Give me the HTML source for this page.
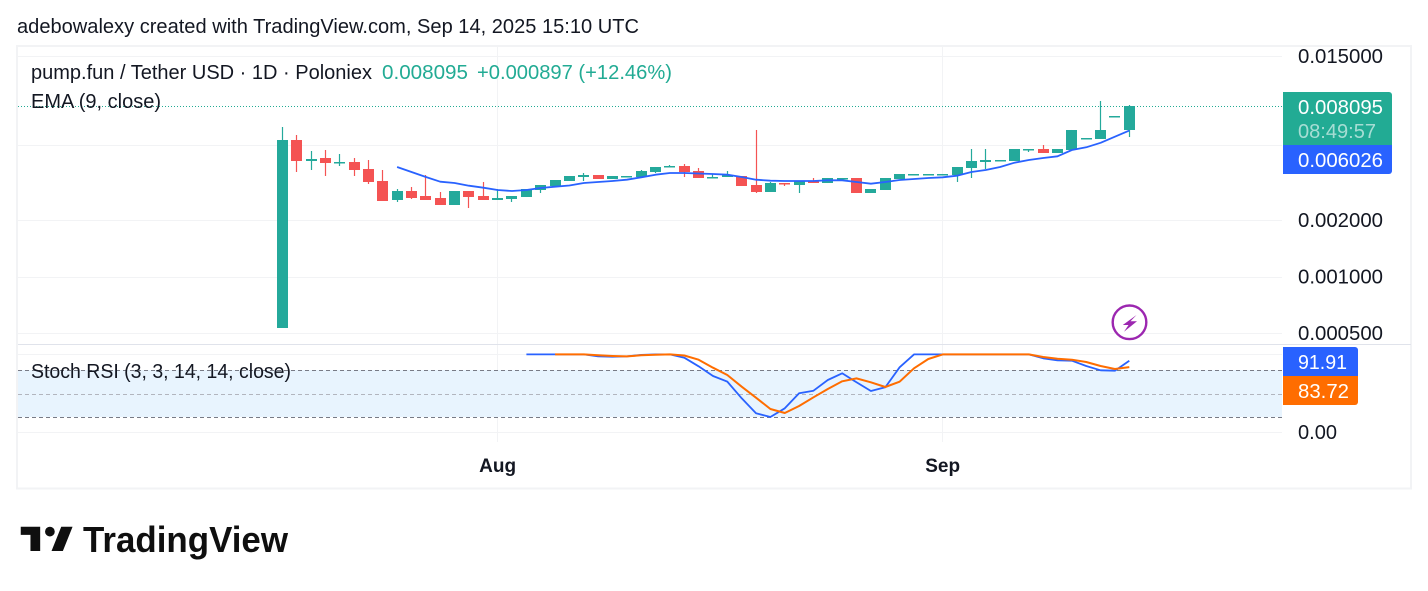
<!DOCTYPE html>
<html lang="en">
<head>
<meta charset="utf-8">
<title>pump.fun / Tether USD chart</title>
<style>
html,body{margin:0;padding:0;background:#fff;width:1428px;height:591px;overflow:hidden}
svg{display:block}
text{font-family:"Liberation Sans",sans-serif;fill:#131722}
</style>
</head>
<body>
<svg id="chart" width="1428" height="591" viewBox="0 0 1428 591" xmlns="http://www.w3.org/2000/svg">
  <rect x="0" y="0" width="1428" height="591" fill="#ffffff"/>
  <text x="17" y="33" font-size="20" textLength="622" lengthAdjust="spacingAndGlyphs">adebowalexy created with TradingView.com, Sep 14, 2025 15:10 UTC</text>
  <rect x="17" y="46" width="1394" height="442.5" fill="none" stroke="#f2f3f5" stroke-width="2"/>
  <g id="grid"></g>
  <rect x="18" y="370" width="1264" height="47" fill="#e8f4fe"/>
  <line x1="18" x2="1282" y1="370.5" y2="370.5" stroke="#787b86" stroke-dasharray="4 3"/>
  <line x1="18" x2="1282" y1="394.5" y2="394.5" stroke="#b2b5be" stroke-dasharray="4 3"/>
  <line x1="18" x2="1282" y1="417.5" y2="417.5" stroke="#787b86" stroke-dasharray="4 3"/>
  <line x1="18" x2="1411" y1="344.5" y2="344.5" stroke="#e0e3eb"/>
  <line x1="18" x2="1282" y1="106.5" y2="106.5" stroke="#22ab94" stroke-dasharray="1 2"/>
  <g id="candles"></g>
  <path id="ema" fill="none" stroke="#2962ff" stroke-width="1.8" stroke-linejoin="round"/>
  <path id="stochK" fill="none" stroke="#2962ff" stroke-width="1.8" stroke-linejoin="round"/>
  <path id="stochD" fill="none" stroke="#ff6d00" stroke-width="2" stroke-linejoin="round"/>
  <g id="axisLabels"></g>

  <text x="31" y="79" font-size="20" textLength="341" lengthAdjust="spacingAndGlyphs">pump.fun / Tether USD · 1D · Poloniex</text>
  <text x="382" y="79" font-size="20" style="fill:#22ab94" textLength="86" lengthAdjust="spacingAndGlyphs">0.008095</text>
  <text x="477" y="79" font-size="20" style="fill:#22ab94" textLength="195" lengthAdjust="spacingAndGlyphs">+0.000897 (+12.46%)</text>
  <text x="31" y="108" font-size="20" textLength="130" lengthAdjust="spacingAndGlyphs">EMA (9, close)</text>
  <text x="31" y="378" font-size="20" textLength="260" lengthAdjust="spacingAndGlyphs">Stoch RSI (3, 3, 14, 14, close)</text>

  <path d="M1283 92H1389a3 3 0 0 1 3 3V145H1283Z" fill="#22ab94"/>
  <text x="1298" y="114" font-size="20" style="fill:#ffffff" textLength="85" lengthAdjust="spacingAndGlyphs">0.008095</text>
  <text x="1298" y="138" font-size="20" style="fill:#ffffff;fill-opacity:.6" textLength="78" lengthAdjust="spacingAndGlyphs">08:49:57</text>
  <path d="M1283 145H1392V171a3 3 0 0 1 -3 3H1283Z" fill="#2962ff"/>
  <text x="1298" y="167" font-size="20" style="fill:#ffffff" textLength="85" lengthAdjust="spacingAndGlyphs">0.006026</text>
  <path d="M1283 347H1355a3 3 0 0 1 3 3V376H1283Z" fill="#2962ff"/>
  <text x="1298" y="369" font-size="20" style="fill:#ffffff" textLength="49" lengthAdjust="spacingAndGlyphs">91.91</text>
  <path d="M1283 376H1358V402a3 3 0 0 1 -3 3H1283Z" fill="#ff6d00"/>
  <text x="1298" y="398" font-size="20" style="fill:#ffffff" textLength="51" lengthAdjust="spacingAndGlyphs">83.72</text>

  <g>
    <circle cx="1129.5" cy="322.3" r="16.8" fill="#ffffff" stroke="#9c27b0" stroke-width="2.4"/>
    <path d="M1136.5 315L1122.8 325H1128.5L1124 331.7L1137 321.3H1130.5Z" fill="#9c27b0"/>
  </g>

  <g>
    <path transform="translate(17.5 517) scale(1.62)" d="M14 6H2v5h6v10h6V6zm14 15h-7l6-15h7l-6 15zm-8-9a3 3 0 1 0 0-6 3 3 0 0 0 0 6z" fill="#0f0f0f"/>
    <text x="83" y="552" font-size="36" font-weight="bold" style="fill:#0f0f0f" textLength="205" lengthAdjust="spacingAndGlyphs">TradingView</text>
  </g>
</svg>
<script>
// Jul 17 – Sep 14, 2025, daily candles
const startDate = '2025-07-17';
const opens = [0.000535,0.005370,0.004150,0.004305,0.004049,0.004099,0.003762,0.003247,0.002572,0.002872,0.002701,0.002636,0.002419,0.002872,0.002701,0.002572,0.002604,0.002668,0.002908,0.003054,0.003247,0.003410,0.003495,0.003328,0.003410,0.003410,0.003626,0.003856,0.003903,0.003671,0.003369,0.003410,0.003453,0.003092,0.002837,0.003168,0.003092,0.003247,0.003168,0.003328,0.003369,0.002802,0.002908,0.003328,0.003495,0.003495,0.003495,0.003495,0.003808,0.004099,0.004150,0.004150,0.004750,0.004808,0.004578,0.004750,0.005436,0.005436,0.007120,0.006071];
const highs = [0.006298,0.005709,0.004692,0.004750,0.004522,0.004305,0.004201,0.003716,0.002943,0.003017,0.003495,0.002837,0.002872,0.002872,0.003208,0.002943,0.002701,0.002943,0.003092,0.003287,0.003453,0.003582,0.003495,0.003453,0.003453,0.003716,0.003856,0.003951,0.004000,0.003808,0.003538,0.003671,0.003453,0.006071,0.003208,0.003168,0.003247,0.003369,0.003369,0.003369,0.003369,0.002943,0.003369,0.003538,0.003538,0.003538,0.003538,0.003856,0.004808,0.004808,0.004201,0.004808,0.004808,0.005050,0.004808,0.006071,0.005503,0.008665,0.007207,0.008249];
const lows = [0.000535,0.003626,0.003716,0.003453,0.003903,0.003453,0.003130,0.002541,0.002510,0.002604,0.002572,0.002419,0.002419,0.002331,0.002572,0.002572,0.002510,0.002668,0.002802,0.003054,0.003247,0.003247,0.003328,0.003328,0.003410,0.003410,0.003582,0.003856,0.003410,0.003369,0.003369,0.003410,0.003054,0.002802,0.002837,0.003054,0.002802,0.003168,0.003168,0.003328,0.002802,0.002802,0.002908,0.003328,0.003495,0.003495,0.003495,0.003208,0.003369,0.003762,0.004150,0.004150,0.004635,0.004578,0.004578,0.004750,0.005436,0.005436,0.007120,0.005570];
const closes = [0.005370,0.004150,0.004253,0.004049,0.004099,0.003716,0.003208,0.002541,0.002872,0.002636,0.002572,0.002419,0.002872,0.002668,0.002572,0.002636,0.002701,0.002943,0.003092,0.003287,0.003453,0.003495,0.003328,0.003453,0.003453,0.003671,0.003856,0.003903,0.003626,0.003369,0.003410,0.003495,0.003054,0.002837,0.003168,0.003130,0.003247,0.003168,0.003369,0.003369,0.002802,0.002943,0.003369,0.003538,0.003538,0.003538,0.003538,0.003856,0.004150,0.004201,0.004201,0.004808,0.004808,0.004578,0.004808,0.006071,0.005503,0.006071,0.007207,0.008095];
const emaValues = [null,null,null,null,null,null,null,null,0.003856,0.003626,0.003410,0.003220,0.003168,0.003066,0.002992,0.002908,0.002872,0.002908,0.002980,0.003028,0.003073,0.003168,0.003208,0.003247,0.003300,0.003398,0.003508,0.003582,0.003582,0.003560,0.003538,0.003508,0.003410,0.003300,0.003260,0.003247,0.003247,0.003247,0.003275,0.003275,0.003208,0.003141,0.003208,0.003287,0.003328,0.003369,0.003398,0.003465,0.003626,0.003716,0.003856,0.004064,0.004201,0.004305,0.004396,0.004750,0.004908,0.005190,0.005590,0.006026];
const stochK = [null,null,null,null,null,null,null,null,null,null,null,null,null,null,null,null,null,100,100,100,100,100,97.6,97,97.5,99.3,100,100,95.8,84.8,72.4,65.2,43.9,24.8,20,31.1,50.3,53.6,67.3,75.9,64.4,53.3,58,83.5,100,100,100,100,100,100,100,100,100,95,92.4,92,85.2,79.7,79.2,91.91];
const stochD = [null,null,null,null,null,null,null,null,null,null,null,null,null,null,null,null,null,null,null,100,100,100,98.8,98,97.5,98.8,99.5,100,98.6,93.2,83,73.7,58.7,44.7,30.3,25.2,34.1,45.2,55.8,65.6,69.4,64.4,58.4,65.1,82.2,94.1,100,100,100,100,100,100,100,96.7,94.5,93.2,90.3,85.2,81.4,83.72];
const priceTicks = [0.015,0.005,0.002,0.001,0.0005];
const priceTickLabels = ['0.015000','','0.002000','0.001000','0.000500'];
const stochTicks = [100,0];
const stochTickLabels = ['','0.00'];
const timeTickDates = ['2025-08-01','2025-09-01'];
const timeTickLabels = ['Aug','Sep'];

const NS = 'http://www.w3.org/2000/svg';
const UP = '#24a99b', DOWN = '#f45353';
function xIdx(i){ return 282.3 + i * 14.356; }
function yPrice(p){ return 277 - Math.log2(p / 0.001) * 56.5; }
function yStoch(v){ return 432.7 - v * 0.783; }
function dayIndex(d){ return Math.round((Date.parse(d) - Date.parse(startDate)) / 86400000); }
function make(tag, attrs, parent){
  const el = document.createElementNS(NS, tag);
  for (const k in attrs) el.setAttribute(k, attrs[k]);
  parent.appendChild(el);
  return el;
}
function linePath(values, yFn){
  let d = '';
  values.forEach((v, i) => {
    if (v === null) return;
    d += (d ? 'L' : 'M') + xIdx(i).toFixed(1) + ' ' + yFn(v).toFixed(1);
  });
  return d;
}

const grid = document.getElementById('grid');
priceTicks.forEach(t => {
  const y = Math.floor(yPrice(t)) + 0.5;
  const el = make('line', {x1:18, x2:1282, y1:y, y2:y, stroke:'#f2f3f5'}, grid);
  
  
});
stochTicks.forEach(t => {
  const y = Math.floor(yStoch(t)) + 0.5;
  const el = make('line', {x1:18, x2:1282, y1:y, y2:y, stroke:'#f2f3f5'}, grid);
  
  
});
timeTickDates.forEach(d => {
  const x = Math.round(xIdx(dayIndex(d)) - 0.5) + 0.5;
  const el = make('line', {x1:x, x2:x, y1:46, y2:442, stroke:'#f2f3f5'}, grid);
  
  
});

const candles = document.getElementById('candles');
closes.forEach((c, i) => {
  const o = opens[i];
  const col = c >= o ? UP : DOWN;
  const cx = Math.round(xIdx(i) - 0.5);
  const g = make('g', {}, candles);
  
  
  const yH = yPrice(highs[i]), yL = yPrice(lows[i]);
  const top = Math.round(yPrice(Math.max(o, c)) - 0.2);
  const h = Math.max(1.5, Math.round(yPrice(Math.min(o, c))) - top);
  make('rect', {x:cx - 0.1, y:yH, width:1.2, height:Math.max(0, yL - yH), fill:col}, g);
  make('rect', {x:cx - 5, y:top, width:11, height:h, fill:col}, g);
});

document.getElementById('ema').setAttribute('d', linePath(emaValues, yPrice));
document.getElementById('stochK').setAttribute('d', linePath(stochK, yStoch));
document.getElementById('stochD').setAttribute('d', linePath(stochD, yStoch));

const axisLabels = document.getElementById('axisLabels');
priceTicks.forEach((t, i) => {
  if (!priceTickLabels[i]) return;
  const el = make('text', {x:1298, y:yPrice(t) + 6.5, 'font-size':20, textLength:85, lengthAdjust:'spacingAndGlyphs'}, axisLabels);
  
  
  el.textContent = priceTickLabels[i];
});
stochTicks.forEach((t, i) => {
  if (!stochTickLabels[i]) return;
  const el = make('text', {x:1298, y:yStoch(t) + 6.5, 'font-size':20, textLength:39, lengthAdjust:'spacingAndGlyphs'}, axisLabels);
  
  
  el.textContent = stochTickLabels[i];
});
timeTickDates.forEach((d, i) => {
  const el = make('text', {x:xIdx(dayIndex(d)), y:472, 'font-size':19, 'font-weight':'bold', 'text-anchor':'middle'}, axisLabels);
  
  
  el.textContent = timeTickLabels[i];
});
</script>
</body>
</html>
